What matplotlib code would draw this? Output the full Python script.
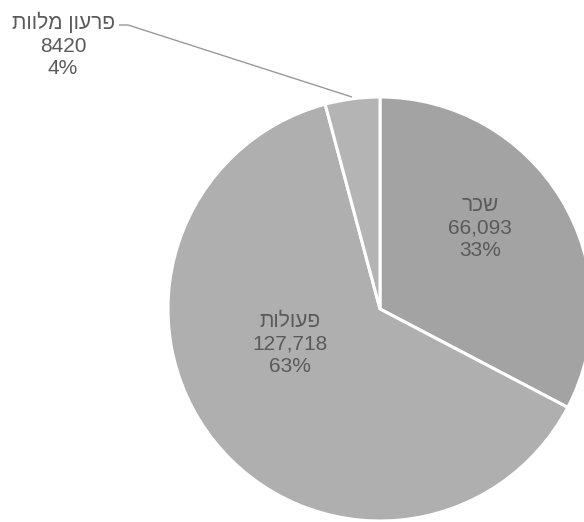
import matplotlib
matplotlib.use("Agg")
import matplotlib.pyplot as plt

# ---- data ----
categories = ["שכר", "פעולות", "פרעון מלוות"]
values = [66093, 127718, 8420]
value_labels = ["66,093", "127,718", "8420"]
colors = ["#a3a3a3", "#afafaf", "#b4b4b4"]

plt.rcParams['font.family'] = ['Liberation Sans', 'DejaVu Sans']

W, H = 584, 522
fig = plt.figure(figsize=(W / 100, H / 100), dpi=100)
ax = fig.add_axes([0, 0, 1, 1])

cx, cy, R = 380, H - 309, 212

wedges, _ = ax.pie(values, colors=colors, startangle=90, counterclock=False,
                   center=(cx, cy), radius=R, frame=True,
                   wedgeprops=dict(edgecolor='white', linewidth=2.2))
ax.set_xlim(0, W)
ax.set_ylim(0, H)
ax.set_aspect('equal')
ax.axis('off')

def visual(s):
    # matplotlib has no bidi: reverse Hebrew for right-to-left display
    return s[::-1]

total = sum(values)
pcts = [round(v / total * 100) for v in values]
texts = [f"{visual(c)}\n{vl}\n{p}%" for c, vl, p in zip(categories, value_labels, pcts)]

label_pos = [(480, H - 228), (290, H - 344), (63, H - 45)]
for t, (x, y) in zip(texts, label_pos):
    ax.text(x, y, t, ha='center', va='center', fontsize=15,
            color='#5a5a5a', linespacing=1.22)

# leader line for the small slice
ax.plot([119, 128, 352], [H - 25, H - 25, H - 97], color='#9a9a9a', lw=1.0,
        solid_capstyle='butt')

fig.savefig("out.png", dpi=100)
